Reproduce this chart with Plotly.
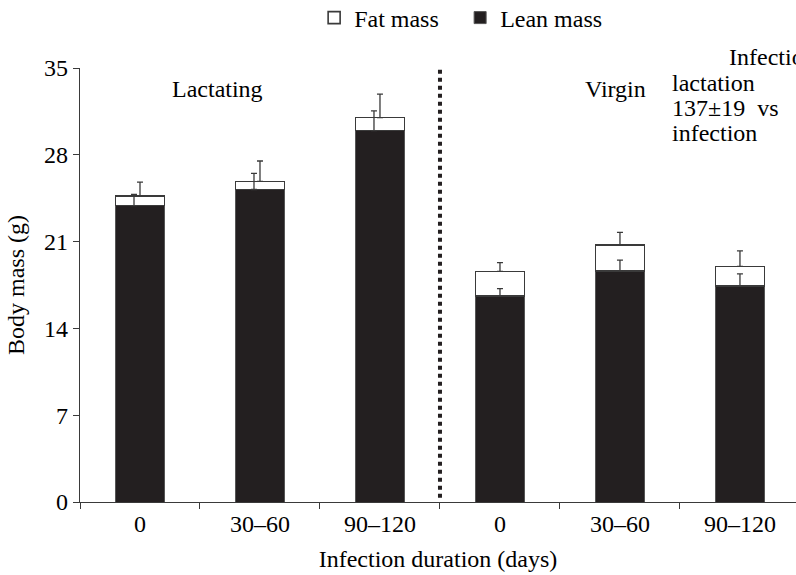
import plotly.graph_objects as go

categories = ["0", "30–60", "90–120", "0", "30–60", "90–120"]
lean_mass = [23.9, 25.2, 29.95, 16.6, 18.65, 17.4]
fat_mass = [0.8, 0.65, 1.05, 2.0, 2.1, 1.6]
lean_se = [0.9, 1.3, 1.6, 0.6, 0.85, 1.0]
total_se = [1.1, 1.65, 1.9, 0.7, 1.0, 1.25]
groups = ["Lactating", "Lactating", "Lactating", "Virgin", "Virgin", "Virgin"]

FONT = "Times New Roman, Liberation Serif, serif"
DARK = "#231f20"
LINE = "#3a3a3a"
FS = 24

xpos = list(range(len(categories)))
total = [l + f for l, f in zip(lean_mass, fat_mass)]
lean_offset = {"Lactating": -0.05, "Virgin": 0.0}

fig = go.Figure()
fig.add_trace(go.Bar(
    x=xpos, y=lean_mass, name="Lean mass", width=0.41,
    marker=dict(color=DARK, line=dict(color="#555555", width=1)),
))
fig.add_trace(go.Bar(
    x=xpos, y=fat_mass, name="Fat mass", width=0.41,
    marker=dict(color="white", line=dict(color=LINE, width=1.6)),
))
# error bars (one-sided, upward)
fig.add_trace(go.Scatter(
    x=[x + lean_offset[g] for x, g in zip(xpos, groups)], y=lean_mass, mode="markers",
    marker=dict(size=1, color="rgba(0,0,0,0)"), showlegend=False, hoverinfo="skip",
    error_y=dict(type="data", array=lean_se, arrayminus=[0] * 6, symmetric=False,
                 color=LINE, thickness=1.3, width=3),
))
fig.add_trace(go.Scatter(
    x=xpos, y=total, mode="markers",
    marker=dict(size=1, color="rgba(0,0,0,0)"), showlegend=False, hoverinfo="skip",
    error_y=dict(type="data", array=total_se, arrayminus=[0] * 6, symmetric=False,
                 color=LINE, thickness=1.3, width=3),
))

# dashed divider
fig.add_shape(type="line", xref="x", yref="y", x0=2.5, x1=2.5, y0=0.35, y1=35.6,
              line=dict(color=DARK, width=4, dash="4px,4px"))

fig.add_annotation(x=0.65, y=33.3, xref="x", yref="y", text="Lactating", showarrow=False,
                   font=dict(family=FONT, size=FS, color="black"))
fig.add_annotation(x=3.96, y=33.3, xref="x", yref="y", text="Virgin", showarrow=False,
                   font=dict(family=FONT, size=FS, color="black"))

# text block at top right (pixel positions converted to plot-area fractions)
PL, PR, PT, PB = 80, 796, 68, 502
right_lines = [("Infection during", 727, 57), ("lactation", 670, 83),
               ("137±19  vs", 670, 108), ("infection", 670, 133)]
for txt, px, py in right_lines:
    fig.add_annotation(x=(px - PL) / (PR - PL), y=(PB - py) / (PB - PT),
                       xref="paper", yref="paper", text=txt,
                       showarrow=False, xanchor="left", yanchor="middle",
                       font=dict(family=FONT, size=FS, color="black"))

fig.update_layout(
    width=796, height=575,
    margin=dict(l=PL, r=0, t=PT, b=575 - PB),
    paper_bgcolor="white", plot_bgcolor="white",
    barmode="stack", bargap=0.6,
    font=dict(family=FONT, size=FS, color="black"),
    legend=dict(orientation="h", x=0.327, y=1 - 18 / 575, yref="container",
                xanchor="left", yanchor="middle",
                traceorder="reversed", font=dict(family=FONT, size=FS, color="black"),
                itemwidth=30, entrywidth=101, entrywidthmode="pixels"),
    xaxis=dict(range=[-0.5, 5.467], tickvals=xpos, ticktext=categories, ticks="",
               showline=True, linecolor=LINE, linewidth=1.3, showgrid=False, zeroline=False,
               tickfont=dict(family=FONT, size=FS, color="black"),
               minor=dict(tickvals=[i - 0.5 for i in range(7)], ticks="outside", ticklen=6,
                          tickcolor=LINE, tickwidth=1.3, showgrid=False),
               title=dict(text="Infection duration (days)", standoff=14,
                          font=dict(family=FONT, size=FS, color="black"))),
    yaxis=dict(range=[0, 35], tickvals=[0, 7, 14, 21, 28, 35], ticks="outside", ticklen=6,
               tickcolor=LINE, tickwidth=1.3, showline=True, linecolor=LINE, linewidth=1.3,
               showgrid=False, zeroline=False,
               tickfont=dict(family=FONT, size=FS, color="black"),
               title=dict(text="Body mass (g)", standoff=12,
                          font=dict(family=FONT, size=FS, color="black"))),
)

fig.write_html("out.html")
